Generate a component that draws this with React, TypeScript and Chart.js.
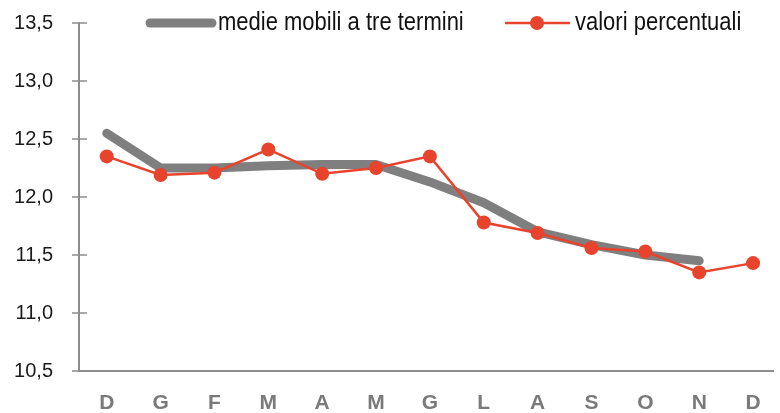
import { useEffect, useRef } from "react";
import { Chart, registerables } from "chart.js";
Chart.register(...registerables);

const months = ["D", "G", "F", "M", "A", "M", "G", "L", "A", "S", "O", "N", "D"];
const movingAvg: (number | null)[] = [12.55, 12.25, 12.25, 12.27, 12.28, 12.28, 12.13, 11.95, 11.70, 11.59, 11.50, 11.45, null];
const percentValues = [12.35, 12.19, 12.21, 12.41, 12.20, 12.25, 12.35, 11.78, 11.69, 11.56, 11.53, 11.35, 11.43];
const yTicks = [10.5, 11, 11.5, 12, 12.5, 13, 13.5];
const seriesNames = ["medie mobili a tre termini", "valori percentuali"];

const FONT = '"Liberation Sans", Arial, sans-serif';
const GRAY = "#7f7f7f";
const RED = "#e8432d";

export default function App() {
  const ref = useRef<HTMLCanvasElement | null>(null);
  useEffect(() => {
    document.body.style.margin = "0";
    const canvas = ref.current!;
    const crossTicks = {
      id: "crossTicks",
      afterDraw(chart: any) {
        const ctx = chart.ctx;
        const y = chart.scales.y;
        const left = chart.chartArea.left;
        ctx.save();
        ctx.strokeStyle = "#8c8c8c";
        ctx.lineWidth = 1.5;
        for (const v of yTicks) {
          const p = y.getPixelForValue(v);
          ctx.beginPath();
          ctx.moveTo(left - 7, p);
          ctx.lineTo(left + 8, p);
          ctx.stroke();
        }
        // legend
        const ly = 23;
        ctx.lineCap = "round";
        ctx.strokeStyle = GRAY;
        ctx.lineWidth = 9;
        ctx.beginPath();
        ctx.moveTo(150, ly);
        ctx.lineTo(212, ly);
        ctx.stroke();
        ctx.lineCap = "butt";
        ctx.strokeStyle = RED;
        ctx.lineWidth = 2.5;
        ctx.beginPath();
        ctx.moveTo(505, ly);
        ctx.lineTo(570, ly);
        ctx.stroke();
        ctx.fillStyle = RED;
        ctx.beginPath();
        ctx.arc(537, ly, 7, 0, Math.PI * 2);
        ctx.fill();
        ctx.fillStyle = "#111";
        ctx.font = `22px ${FONT}`;
        ctx.textBaseline = "middle";
        ctx.textAlign = "left";
        ctx.save();
        ctx.translate(0, ly);
        ctx.scale(1, 1.2);
        ctx.fillText(seriesNames[0], 218, 0);
        ctx.fillText(seriesNames[1], 575, 0);
        ctx.restore();
        ctx.restore();
      },
    };
    const chart = new Chart(canvas, {
      type: "line",
      data: {
        datasets: [
          {
            label: seriesNames[0],
            data: movingAvg.map((v, i) => ({ x: i, y: v })) as any,
            borderColor: GRAY,
            borderWidth: 9,
            borderCapStyle: "round",
            borderJoinStyle: "round",
            pointRadius: 0,
            order: 2,
            spanGaps: false,
          },
          {
            label: seriesNames[1],
            data: percentValues.map((v, i) => ({ x: i, y: v })),
            borderColor: RED,
            backgroundColor: RED,
            borderWidth: 2.5,
            pointRadius: 7,
            pointBorderWidth: 0,
            pointBackgroundColor: RED,
            order: 1,
          },
        ],
      },
      options: {
        animation: false,
        responsive: false,
        maintainAspectRatio: false,
        layout: { padding: { top: 23, right: 0, left: 0, bottom: 0 } },
        plugins: { legend: { display: false }, tooltip: { enabled: false } },
        scales: {
          x: {
            type: "linear",
            min: -0.515,
            max: 12.37,
            grid: { display: false, drawTicks: false },
            border: { display: true, color: "#8c8c8c", width: 2 },
            afterBuildTicks: (s: any) => {
              s.ticks = months.map((_, i) => ({ value: i }));
            },
            afterFit: (s: any) => {
              s.height = 42;
              s.paddingLeft = 0;
              s.paddingRight = 0;
            },
            ticks: {
              autoSkip: false,
              maxRotation: 0,
              padding: 20,
              color: "#7a7a7a",
              font: { family: FONT, size: 21, weight: "bold" },
              callback: (v: any) => months[Math.round(Number(v))] ?? "",
            },
          },
          y: {
            min: 10.5,
            max: 13.5,
            grid: { display: false, drawTicks: false },
            border: { display: true, color: "#8c8c8c", width: 2 },
            afterBuildTicks: (s: any) => {
              s.ticks = yTicks.map((v) => ({ value: v }));
            },
            afterFit: (s: any) => {
              s.width = 79;
              s.paddingTop = 0;
              s.paddingBottom = 0;
            },
            ticks: {
              padding: 26,
              color: "#1a1a1a",
              font: { family: FONT, size: 20 },
              callback: (v: any) => Number(v).toFixed(1).replace(".", ","),
            },
          },
        },
      },
      plugins: [crossTicks],
    } as any);
    return () => chart.destroy();
  }, []);
  return (
    <div style={{ width: 780, height: 413 }}>
      <canvas ref={ref} width={780} height={413} style={{ display: "block" }} />
    </div>
  );
}
